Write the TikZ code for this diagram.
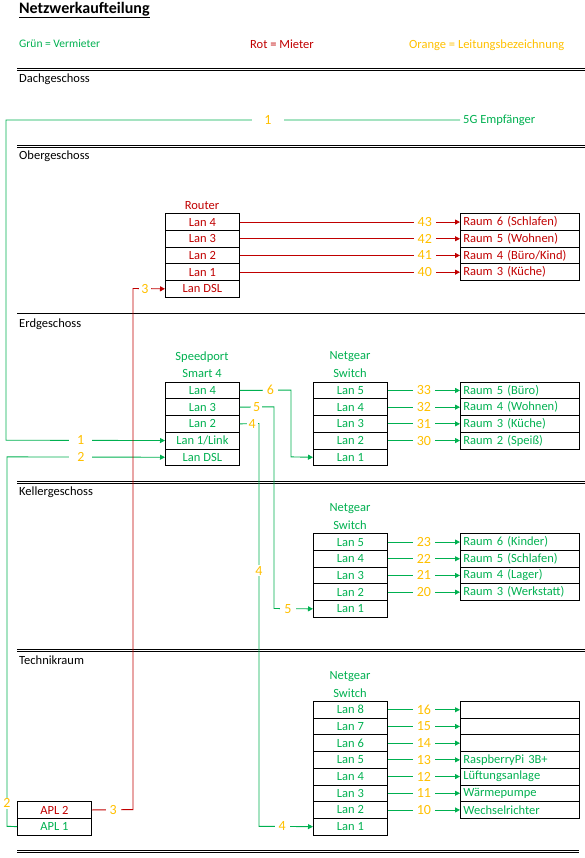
\documentclass[tikz,border=0pt]{standalone}
\usepackage{fontspec}
\setmainfont{Carlito}
\usetikzlibrary{arrows.meta}
\definecolor{xgreen}{RGB}{0,176,80}
\definecolor{xred}{RGB}{192,0,0}
\definecolor{xorange}{RGB}{255,192,0}
\newcommand{\fs}{\fontsize{12.5}{15}\selectfont}
\begin{document}
\begin{tikzpicture}[x=1pt,y=-1pt,
  cell/.style={draw=black, line width=0.8pt, minimum width=74pt, minimum height=16.7pt, inner sep=0pt, anchor=north west, font=\fs},
  wide/.style={draw=black, line width=0.8pt, minimum height=16.7pt, text width=113pt, inner xsep=3pt, inner ysep=0pt, align=left, anchor=north west, font=\fs},
  head/.style={font=\fs, align=center},
  sect/.style={anchor=west, inner sep=0pt, font=\fs},
  lbl/.style={fill=white, text=xorange, inner xsep=4pt, inner ysep=1pt, font=\fontsize{14}{16}\selectfont},
  dbl/.style={draw=black, double=white, double distance=1.6pt, line width=0.8pt},
  tip/.style={-{Triangle[length=5pt,width=5pt]}},
  gl/.style={draw=xgreen, line width=0.9pt},
  rl/.style={draw=xred, line width=0.9pt},
  G/.style={text=xgreen},
  R/.style={text=xred}
]
\useasboundingbox (0,0) rectangle (585,858);

% title and legend
\node[anchor=base west, inner sep=0pt, font=\fontsize{16}{18}\selectfont\bfseries] (title) at (19,13.5) {\underline{Netzwerkaufteilung}};
\node[anchor=base west, inner sep=0pt, font=\fontsize{11.5}{14}\selectfont, G] (lg) at (19,48) {Grün = Vermieter};
\node[anchor=base west, inner sep=0pt, font=\fs, R] (lr) at (250,48.5) {Rot = Mieter};
\node[anchor=base west, inner sep=0pt, font=\fs, text=xorange] (lo) at (409,48.5) {Orange = Leitungsbezeichnung};

% section separators
\path[dbl] (17,69.5) -- (585,69.5);
\path[dbl] (17,146.7) -- (585,146.7);
\path[dbl] (17,314.8) -- (585,314.8);
\path[dbl] (17,482.5) -- (585,482.5);
\path[dbl] (17,650.5) -- (585,650.5);
\path[dbl] (17,851.5) -- (579,851.5);

\node[sect] (s1) at (19,79) {Dachgeschoss};
\node[sect] (s2) at (19,156) {Obergeschoss};
\node[sect] (s3) at (19,324) {Erdgeschoss};
\node[sect] (s4) at (19,492) {Kellergeschoss};
\node[sect] (s5) at (19,660) {Technikraum};

% Dachgeschoss
\node[anchor=west, inner xsep=3pt, font=\fs, G] (g5) at (460,120) {5G Empfänger};

% Router
\node[head, R] (hr) at (202,206) {Router};
\node[cell,R] (r4) at (165,213.3) {Lan 4};
\node[cell,R] (r3) at (165,230.0) {Lan 3};
\node[cell,R] (r2) at (165,246.7) {Lan 2};
\node[cell,R] (r1) at (165,263.4) {Lan 1};
\node[cell,R] (rdsl) at (165,280.1) {Lan DSL};
\node[wide,R] (rr6) at (460,213.3) {Raum 6 (Schlafen)};
\node[wide,R] (rr5) at (460,230.0) {Raum 5 (Wohnen)};
\node[wide,R] (rr4) at (460,246.7) {Raum 4 (Büro/Kind)};
\node[wide,R] (rr3) at (460,263.4) {Raum 3 (Küche)};

% Speedport
\node[head, G] (hsp1) at (202,357) {Speedport};
\node[head, G] (hsp2) at (202,373) {Smart 4};
\node[cell,G] (sp4) at (165,381.7) {Lan 4};
\node[cell,G] (sp3) at (165,398.4) {Lan 3};
\node[cell,G] (sp2) at (165,415.1) {Lan 2};
\node[cell,G] (sp1) at (165,431.8) {Lan 1/Link};
\node[cell,G] (spdsl) at (165,448.5) {Lan DSL};

% Netgear EG
\node[head, G] (he1) at (350,357) {Netgear};
\node[head, G] (he2) at (350,373) {Switch};
\node[cell,G] (e5) at (313,381.7) {Lan 5};
\node[cell,G] (e4) at (313,398.4) {Lan 4};
\node[cell,G] (e3) at (313,415.1) {Lan 3};
\node[cell,G] (e2) at (313,431.8) {Lan 2};
\node[cell,G] (e1) at (313,448.5) {Lan 1};
\node[wide,G] (er5) at (460,381.7) {Raum 5 (Büro)};
\node[wide,G] (er4) at (460,398.4) {Raum 4 (Wohnen)};
\node[wide,G] (er3) at (460,415.1) {Raum 3 (Küche)};
\node[wide,G] (er2) at (460,431.8) {Raum 2 (Speiß)};

% Netgear Keller
\node[head, G] (hk1) at (350,509) {Netgear};
\node[head, G] (hk2) at (350,525) {Switch};
\node[cell,G] (k5) at (313,533.3) {Lan 5};
\node[cell,G] (k4) at (313,550.0) {Lan 4};
\node[cell,G] (k3) at (313,566.7) {Lan 3};
\node[cell,G] (k2) at (313,583.4) {Lan 2};
\node[cell,G] (k1) at (313,600.1) {Lan 1};
\node[wide,G] (kr6) at (460,533.3) {Raum 6 (Kinder)};
\node[wide,G] (kr5) at (460,550.0) {Raum 5 (Schlafen)};
\node[wide,G] (kr4) at (460,566.7) {Raum 4 (Lager)};
\node[wide,G] (kr3) at (460,583.4) {Raum 3 (Werkstatt)};

% Netgear Technik
\node[head, G] (ht1) at (350,677) {Netgear};
\node[head, G] (ht2) at (350,693) {Switch};
\node[cell,G] (t8) at (313,701.0) {Lan 8};
\node[cell,G] (t7) at (313,717.7) {Lan 7};
\node[cell,G] (t6) at (313,734.4) {Lan 6};
\node[cell,G] (t5) at (313,751.1) {Lan 5};
\node[cell,G] (t4) at (313,767.8) {Lan 4};
\node[cell,G] (t3) at (313,784.5) {Lan 3};
\node[cell,G] (t2) at (313,801.2) {Lan 2};
\node[cell,G] (t1) at (313,817.9) {Lan 1};
\node[wide,G] (tr8) at (460,701.0) {\strut};
\node[wide,G] (tr7) at (460,717.7) {\strut};
\node[wide,G] (tr6) at (460,734.4) {\strut};
\node[wide,G] (tr5) at (460,751.1) {RaspberryPi 3B+};
\node[wide,G] (tr4) at (460,767.8) {Lüftungsanlage};
\node[wide,G] (tr3) at (460,784.5) {Wärmepumpe};
\node[wide,G] (tr2) at (460,801.2) {Wechselrichter};

% APL
\node[cell,R] (apl2) at (17,801.2) {APL 2};
\node[cell,G] (apl1) at (17,817.9) {APL 1};

% bend points
\coordinate (w1a) at (6,120);
\coordinate (w1b) at (6,440.2);
\coordinate (w2a) at (7,826.3);
\coordinate (w2b) at (7,456.9);
\coordinate (w3a) at (133,809.6);
\coordinate (w3b) at (133,288.5);
\coordinate (w6a) at (291,390.1);
\coordinate (w6b) at (291,456.9);
\coordinate (w5a) at (274,406.8);
\coordinate (w5b) at (274,608.5);
\coordinate (w4a) at (259,423.5);
\coordinate (w4b) at (259,826.3);

% connectors
\draw[gl,tip] (g5.west) -- node[lbl,pos=0.423,inner xsep=12pt]{1} (w1a) -- (w1b) -- node[lbl,pos=0.47,inner xsep=8pt]{1} (sp1.west);
\draw[gl,tip] (apl1.west) -- (w2a) -- node[lbl,pos=0.062]{2} (w2b) -- node[lbl,pos=0.468,inner xsep=8pt]{2} (spdsl.west);
\draw[rl,tip] (apl2.east) -- node[lbl,pos=0.52]{3} (w3a) -- (w3b) -- node[lbl,pos=0.375,inner xsep=2pt]{3} (rdsl.west);
\draw[gl,tip] (sp4.east) -- node[lbl,pos=0.6]{6} (w6a) -- (w6b) -- (e1.west);
\draw[gl,tip] (sp3.east) -- node[lbl,pos=0.49,inner xsep=2pt]{5} (w5a) -- (w5b) -- node[lbl,pos=0.36]{5} (k1.west);
\draw[gl,tip] (sp2.east) -- node[lbl,pos=0.65,inner xsep=2pt]{4} (w4a) -- node[lbl,pos=0.366]{4} (w4b) -- node[lbl,pos=0.43]{4} (t1.west);

\draw[rl,tip] (r4.east) -- node[lbl,pos=0.84]{43} (rr6.west);
\draw[rl,tip] (r3.east) -- node[lbl,pos=0.84]{42} (rr5.west);
\draw[rl,tip] (r2.east) -- node[lbl,pos=0.84]{41} (rr4.west);
\draw[rl,tip] (r1.east) -- node[lbl,pos=0.84]{40} (rr3.west);

\draw[gl,tip] (e5.east) -- node[lbl]{33} (er5.west);
\draw[gl,tip] (e4.east) -- node[lbl]{32} (er4.west);
\draw[gl,tip] (e3.east) -- node[lbl]{31} (er3.west);
\draw[gl,tip] (e2.east) -- node[lbl]{30} (er2.west);

\draw[gl,tip] (k5.east) -- node[lbl]{23} (kr6.west);
\draw[gl,tip] (k4.east) -- node[lbl]{22} (kr5.west);
\draw[gl,tip] (k3.east) -- node[lbl]{21} (kr4.west);
\draw[gl,tip] (k2.east) -- node[lbl]{20} (kr3.west);

\draw[gl,tip] (t8.east) -- node[lbl]{16} (tr8.west);
\draw[gl,tip] (t7.east) -- node[lbl]{15} (tr7.west);
\draw[gl,tip] (t6.east) -- node[lbl]{14} (tr6.west);
\draw[gl,tip] (t5.east) -- node[lbl]{13} (tr5.west);
\draw[gl,tip] (t4.east) -- node[lbl]{12} (tr4.west);
\draw[gl,tip] (t3.east) -- node[lbl]{11} (tr3.west);
\draw[gl,tip] (t2.east) -- node[lbl]{10} (tr2.west);
\end{tikzpicture}
\end{document}
